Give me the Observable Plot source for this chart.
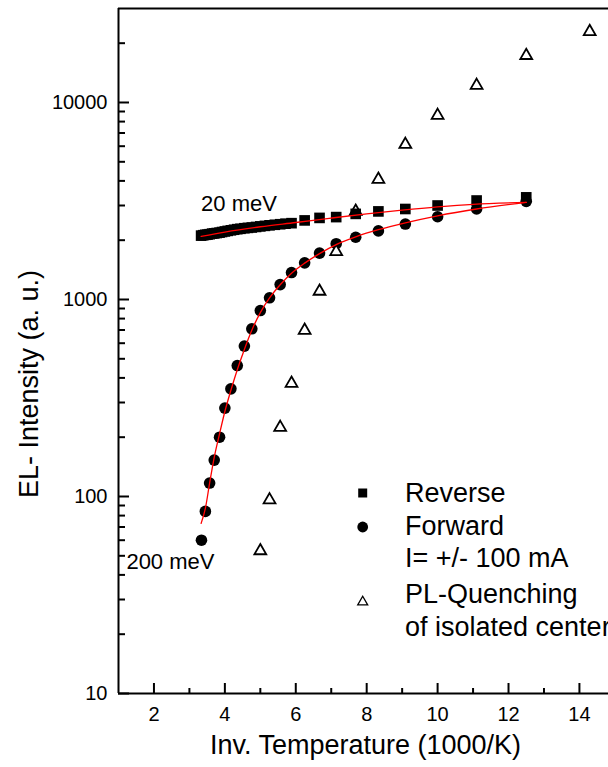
<!DOCTYPE html>
<html>
<head>
<meta charset="utf-8">
<script src="https://cdn.jsdelivr.net/npm/d3@7"></script>
<script src="https://cdn.jsdelivr.net/npm/@observablehq/plot@0.6"></script>
<style>
  html, body { margin: 0; padding: 0; background: #fff; }
  #chart { position: relative; width: 608px; height: 767px; overflow: hidden; background: #fff; }
  #chart svg { display: block; }
</style>
</head>
<body>
<div id="chart"></div>
<script>
// ---- data ----
const xTickLabels = [2, 4, 6, 8, 10, 12, 14];
const xMinorTicks = [3, 5, 7, 9, 11, 13];
const yTickLabels = [10, 100, 1000, 10000];
const yMinorTicks = [20,30,40,50,60,70,80,90,200,300,400,500,600,700,800,900,2000,3000,4000,5000,6000,7000,8000,9000,20000];

const reverseX = [3.33,3.39,3.45,3.51,3.57,3.64,3.70,3.77,3.85,3.92,4.00,4.08,4.17,4.26,4.35,4.44,4.55,4.65,4.76,4.88,5.00,5.13,5.26,5.41,5.56,5.71,5.88,6.25,6.67,7.14,7.69,8.33,9.09,10.0,11.1,12.5];
const reverseY = [2110,2120,2130,2135,2145,2160,2165,2175,2185,2200,2215,2230,2245,2260,2275,2285,2300,2310,2320,2335,2350,2365,2380,2395,2410,2425,2440,2520,2595,2620,2720,2800,2880,3000,3180,3300];

const forwardX = [3.34,3.45,3.57,3.70,3.85,4.00,4.17,4.35,4.55,4.76,5.00,5.26,5.56,5.88,6.25,6.67,7.14,7.69,8.33,9.09,10.0,11.1,12.5];
const forwardY = [60,84,117,153,200,281,352,462,580,710,879,1020,1190,1370,1535,1720,1920,2070,2230,2415,2630,2880,3150];

const quenchX = [5.00,5.26,5.56,5.88,6.25,6.67,7.14,7.69,8.33,9.09,10.0,11.1,12.5,14.29];
const quenchY = [53,96,224,375,697,1100,1750,2800,4070,6120,8590,12200,17300,22900];

const revFitX = [3.33,4,5,6,7,8,9,10,11,12.5];
const revFitY = [2090,2200,2340,2460,2590,2720,2840,2950,3040,3110];
const fwdFitX = [3.33,3.45,3.57,3.70,3.85,4.0,4.17,4.35,4.55,4.76,5.0,5.26,5.56,5.88,6.25,6.67,7.14,7.69,8.33,9.09,10,11.1,12.5];
const fwdFitY = [73,87,117,158,208,270,346,440,558,698,858,1018,1188,1360,1530,1710,1900,2080,2260,2450,2660,2880,3110];

const annotationLabels = ["20 meV", "200 meV"];
const legendLabels = ["Reverse", "Forward", "I= +/- 100 mA", "PL-Quenching", "of isolated center"];
const legendSymbols = ["square", "circle", null, "triangle", null];

const xTitle = "Inv. Temperature (1000/K)";
const yTitle = "EL- Intensity (a. u.)";

// ---- build tables ----
const zip = (xs, ys) => xs.map((x, i) => ({x, y: ys[i]}));
const reverse = zip(reverseX, reverseY);
const forward = zip(forwardX, forwardY);
const quench = zip(quenchX, quenchY);
const revFit = zip(revFitX, revFitY);
const fwdFit = zip(fwdFitX, fwdFitY);

const W = 608, H = 767;
const mL = 118, mR = 0, mT = 8, mB = 74;
const plotW = W - mL - mR, plotH = H - mT - mB;
const font = "'Liberation Sans', Arial, Helvetica, sans-serif";

const chart = Plot.plot({
  width: W,
  height: H,
  marginLeft: mL,
  marginRight: mR,
  marginTop: mT,
  marginBottom: mB,
  style: {fontFamily: font, color: "#000", background: "#fff", overflow: "visible"},
  x: {domain: [1, 14.82]},
  y: {type: "log", domain: [10, 30000]},
  marks: [
    // axes labels
    Plot.axisX(xTickLabels, {tickSize: 0, tickPadding: 13, fontSize: 20, label: null, tickFormat: d => String(d)}),
    Plot.axisY(yTickLabels, {tickSize: 0, tickPadding: 11, fontSize: 20, label: null, tickFormat: d => String(d)}),
    // inward ticks
    Plot.tickX(xTickLabels, {x: d => d, insetTop: plotH - 10, stroke: "#000", strokeWidth: 2}),
    Plot.tickX(xMinorTicks, {x: d => d, insetTop: plotH - 5, stroke: "#000", strokeWidth: 2}),
    Plot.tickY(yTickLabels, {y: d => d, insetRight: plotW - 11, stroke: "#000", strokeWidth: 2}),
    Plot.tickY(yMinorTicks, {y: d => d, insetRight: plotW - 7, stroke: "#000", strokeWidth: 2}),
    // data
    Plot.dot(forward, {x: "x", y: "y", r: 5.8, symbol: "circle", fill: "#000", stroke: "none"}),
    Plot.dot(quench, {x: "x", y: "y", r: 4.4, symbol: "triangle", fill: "#fff", stroke: "#000", strokeWidth: 1.8}),
    Plot.dot(reverse, {x: "x", y: "y", r: 6.0, symbol: "square", fill: "#000", stroke: "none"}),
    // fits
    Plot.line(revFit, {x: "x", y: "y", stroke: "#ff0000", strokeWidth: 1.3, curve: "monotone-x"}),
    Plot.line(fwdFit, {x: "x", y: "y", stroke: "#ff0000", strokeWidth: 1.3, curve: "monotone-x"}),
    // frame lines
    Plot.ruleX([1], {stroke: "#000", strokeWidth: 2}),
    Plot.ruleY([10], {stroke: "#000", strokeWidth: 2}),
    Plot.ruleY([30000], {stroke: "#000", strokeWidth: 2}),
    // annotations
    Plot.text([reverse[0]], {x: "x", y: "y", text: () => annotationLabels[0], textAnchor: "start", dy: -32, fontSize: 22, fill: "#000"}),
    Plot.text([forward[0]], {x: "x", y: "y", text: () => annotationLabels[1], textAnchor: "end", dx: 13, dy: 22, fontSize: 22, fill: "#000"}),
    // titles
    Plot.text([xTitle], {frameAnchor: "bottom", text: d => d, textAnchor: "middle", dx: 2, dy: 60, fontSize: 27, fill: "#000"}),
    Plot.text([yTitle], {frameAnchor: "left", text: d => d, textAnchor: "middle", rotate: -90, dx: -89, dy: 33, fontSize: 27, fill: "#000"})
  ]
});

const container = document.getElementById("chart");
container.append(chart);

// ---- legend overlay ----
const lg = d3.select(container).append("svg")
  .attr("width", W).attr("height", H)
  .style("position", "absolute").style("left", "0px").style("top", "0px")
  .style("pointer-events", "none");

const baselines = [502, 535, 567, 603, 636];
const textX = 405, symX = 362.7;
const symbolOffsets = {square: -9, circle: -8, triangle: -1};
legendLabels.forEach((label, i) => {
  const base = baselines[i];
  lg.append("text")
    .attr("x", textX).attr("y", base)
    .attr("font-family", font).attr("font-size", 27).attr("fill", "#000")
    .text(label);
  const s = legendSymbols[i];
  if (s) {
    const cy = base + symbolOffsets[s];
    if (s === "square") {
      lg.append("path").attr("transform", `translate(${symX},${cy})`)
        .attr("d", d3.symbol(d3.symbolSquare, 9 * 9)()).attr("fill", "#000");
    } else if (s === "circle") {
      lg.append("path").attr("transform", `translate(${symX},${cy})`)
        .attr("d", d3.symbol(d3.symbolCircle, Math.PI * 5.4 * 5.4)()).attr("fill", "#000");
    } else {
      lg.append("path").attr("transform", `translate(${symX},${cy})`)
        .attr("d", d3.symbol(d3.symbolTriangle, Math.PI * 3.7 * 3.7)())
        .attr("fill", "#fff").attr("stroke", "#000").attr("stroke-width", 1.3);
    }
  }
});
</script>
</body>
</html>
